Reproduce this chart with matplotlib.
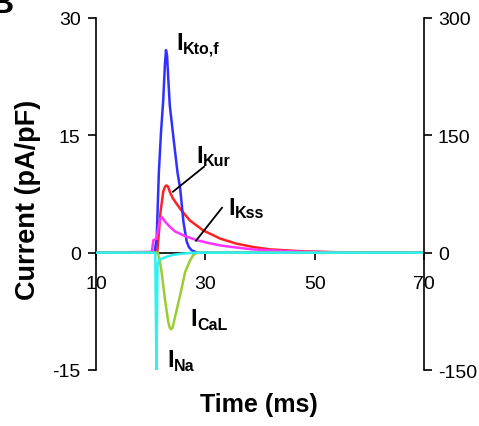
import matplotlib
matplotlib.use('Agg')
import matplotlib.pyplot as plt

plt.rcParams['font.family'] = ['Liberation Sans', 'DejaVu Sans']
plt.rcParams['axes.unicode_minus'] = False

# time axis (ms) and currents (pA/pF); INa is on the right-hand scale
t_kto = [10, 20.7, 21.1, 21.5, 21.9, 22.3, 22.6, 22.8, 23.0, 23.2, 23.5, 24.2, 24.9, 25.4, 26.0, 26.6, 27.0, 27.5, 28.5, 70]
i_kto = [0, 0, 1.8, 10.3, 15.5, 19.5, 24.0, 25.9, 25.2, 22.5, 18.8, 14.5, 10.3, 8.2, 3.9, 1.4, 0.7, 0.3, 0, 0]

t_kur = [10, 21.2, 21.5, 21.8, 22.3, 22.6, 22.9, 23.2, 23.6, 24.1, 25.4, 27.2, 29.6, 32.7, 35.7, 38.8, 41.8, 47.9, 55, 70]
i_kur = [0, 0, 2.5, 5.2, 7.8, 8.4, 8.6, 8.4, 7.6, 6.9, 5.6, 4.1, 2.85, 1.8, 1.15, 0.72, 0.42, 0.17, 0.04, 0]

t_kss = [10, 20.2, 20.5, 21.1, 21.5, 21.8, 22.1, 22.6, 23.5, 24.5, 26.0, 28.4, 30.5, 32.7, 35.7, 38.7, 42.0, 47.9, 55, 70]
i_kss = [0, 0.1, 1.6, 1.8, 3.6, 4.4, 4.5, 4.0, 3.3, 2.7, 2.2, 1.6, 1.25, 0.93, 0.65, 0.42, 0.28, 0.12, 0.03, 0]

t_cal = [10, 21.3, 21.6, 22.0, 22.6, 23.2, 23.5, 23.7, 24.0, 24.4, 25.4, 26.3, 27.2, 27.8, 28.5, 70]
i_cal = [0, 0, -0.8, -2.5, -5.9, -8.8, -9.6, -9.8, -9.6, -8.4, -5.4, -2.5, -1.0, -0.3, 0, 0]

t_na = [10, 20.85, 21.05, 21.25, 21.6, 22.3, 23.0, 24.0, 25.5, 27.0, 29.0, 70]
i_na = [0, 0, -158, -15, -9, -7, -5, -3, -1.5, -0.5, 0, 0]

xticks = [10, 30, 50, 70]
yticks_left = [-15, 0, 15, 30]
yticks_right = [-150, 0, 150, 300]

fig = plt.figure(figsize=(4.79, 4.27), dpi=100)
ax = fig.add_axes([96 / 479, 56 / 427, 328 / 479, 352 / 427])
ax2 = ax.twinx()

ax.set_xlim(10, 70)
ax.set_ylim(-15, 30)
ax2.set_ylim(-150, 300)

lw = 1.8
ax.plot(t_kur, i_kur, color='#ff2222', lw=lw)
ax.plot(t_kto, i_kto, color='#3030ff', lw=lw)
ax.plot(t_kss, i_kss, color='#ff33ff', lw=lw)
ax.plot(t_cal, i_cal, color='#9acd32', lw=lw)
ax2.plot(t_na, i_na, color='#30f0f0', lw=lw)

for a in (ax, ax2):
    a.spines['top'].set_visible(False)
    a.patch.set_visible(False)
ax.spines['right'].set_visible(False)
ax2.spines['left'].set_visible(False)
ax2.spines['bottom'].set_visible(False)
ax.spines['bottom'].set_position(('data', 0))
ax.spines['bottom'].set_zorder(0)
for s in ('left', 'bottom'):
    ax.spines[s].set_linewidth(1.2)
ax2.spines['right'].set_linewidth(1.2)

ax.set_xticks(xticks)
ax.set_yticks(yticks_left)
ax2.set_yticks(yticks_right)
ax.tick_params(axis='x', direction='out', length=5, width=1.2, pad=11, labelsize=14)
ax.tick_params(axis='y', direction='out', length=6, width=1.2, pad=5, labelsize=14)
ax2.tick_params(axis='y', direction='out', length=6, width=1.2, pad=4, labelsize=14)

fig.text(28 / 479, 1 - 200 / 427, 'Current (pA/pF)', rotation=90, ha='center', va='center',
         fontsize=19.5, fontweight='bold')
fig.text(259 / 479, 1 - 405 / 427, 'Time (ms)', ha='center', va='center',
         fontsize=18, fontweight='bold')
fig.text(14 / 479, 1 - 13 / 427, 'B', ha='right', va='baseline', fontsize=24, fontweight='bold')


def current_label(x, y, sub):
    ax.text(x, y, 'I', fontsize=17, fontweight='bold', ha='left', va='baseline')
    ax.annotate(sub, xy=(x, y), xytext=(5, -2.5), textcoords='offset points',
                fontsize=11.5, fontweight='bold', ha='left', va='baseline')


current_label(24.7, 26.0, 'Kto,f')
current_label(28.3, 11.6, 'Kur')
current_label(34.2, 5.0, 'Kss')
current_label(27.3, -9.3, 'CaL')
current_label(23.0, -14.5, 'Na')

# leader lines for the overlapping traces
ax.plot([29.75, 24.08], [10.98, 7.79], color='black', lw=1.3)
ax.plot([33.05, 28.29], [5.74, 1.53], color='black', lw=1.3)

fig.savefig('out.png', dpi=100)
